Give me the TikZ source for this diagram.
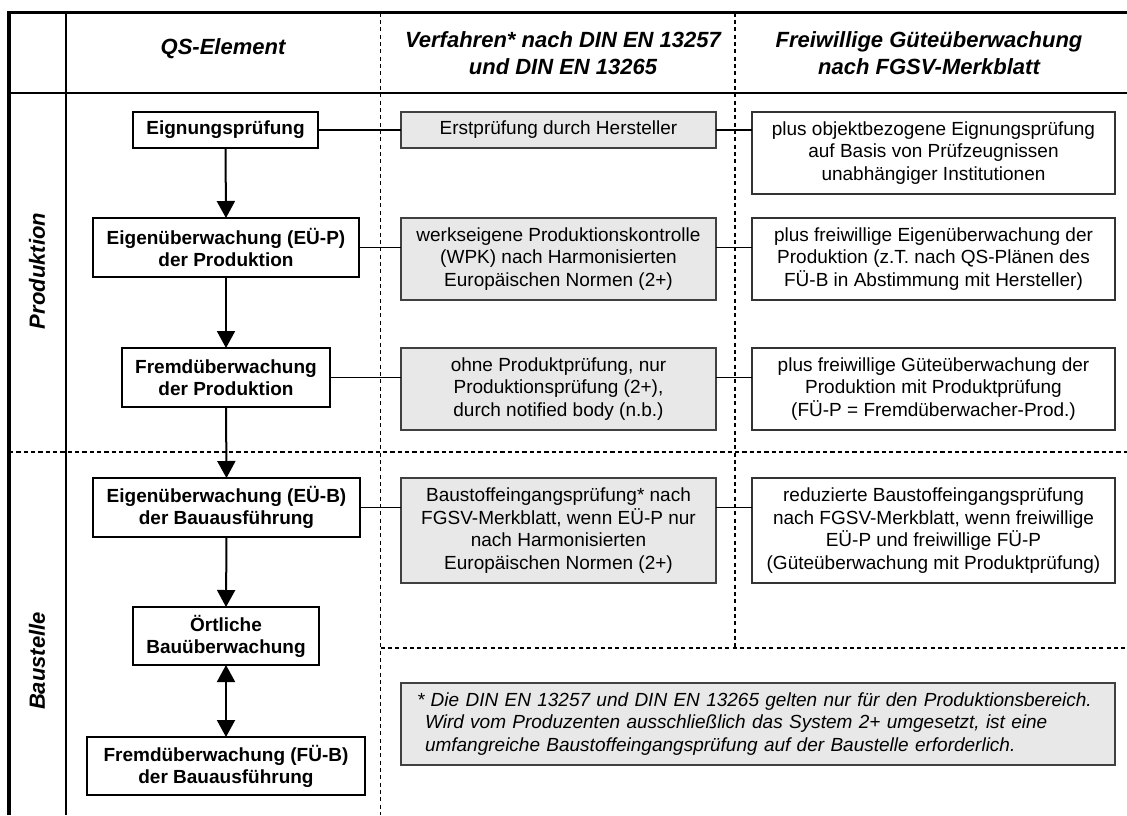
\documentclass[tikz,border=0pt]{standalone}
\usepackage{fontspec}
\setmainfont{Liberation Sans}
\usetikzlibrary{arrows.meta}
\begin{document}
\begin{tikzpicture}[x=0.75pt,y=-0.75pt,
  every node/.style={inner sep=0pt, outer sep=0pt},
  body/.style={font=\fontsize{14.25}{16.9}\selectfont, align=center},
  lbox/.style={draw=black, line width=0.9pt, fill=white, align=center,
               font=\fontsize{14.25}{16.5}\selectfont\bfseries},
  mbox/.style={draw=black!75, line width=0.8pt, fill=black!9, body, minimum width=236.25pt},
  rbox/.style={draw=black!80, line width=0.8pt, fill=white, body, minimum width=272.25pt},
  hdr/.style={font=\fontsize{16.5}{19.9}\selectfont\bfseries\itshape, align=center},
  sep/.style={dash pattern=on 3.2pt off 2.3pt, line width=1.3pt},
  conn/.style={line width=0.8pt},
  arr/.style={line width=1.5pt, -{Triangle[width=13.5pt,length=12.75pt]}},
  darr/.style={line width=1.5pt, {Triangle[width=13.5pt,length=12.75pt]}-{Triangle[width=13.5pt,length=12.75pt]}},
  fnbox/.style={draw=black!75, line width=0.8pt, fill=black!9, align=left,
                font=\fontsize{14.25}{16.9}\selectfont\itshape}
]
\useasboundingbox (0,0) rectangle (1127,815);

% frame lines
\draw[line width=2.4pt] (9,815) -- (9,12.5) -- (1127,12.5);
\draw[line width=0.9pt] (66,12.5) -- (66,815);
\draw[line width=1pt] (9,93) -- (1127,93);
\draw[sep] (380.5,12.5) -- (380.5,815);
\draw[sep] (735,12.5) -- (735,648);
\draw[sep] (9,452) -- (1127,452);
\draw[sep] (380.5,648) -- (1127,648);

% headers
\node[hdr] (h1) at (223,48.5) {QS-Element};
\node[hdr] (h2) at (563,53) {Verfahren* nach DIN EN 13257\\und DIN EN 13265};
\node[hdr] (h3) at (929,53) {Freiwillige Güteüberwachung\\nach FGSV-Merkblatt};
\node[hdr, rotate=90] (sp) at (37,271) {Produktion};
\node[hdr, rotate=90] (sb) at (37,661) {Baustelle};

% left column
\node[lbox, minimum width=138.75pt, minimum height=27pt] (L1) at (225.5,130) {Eignungsprüfung};
\node[lbox, minimum width=199.5pt, minimum height=44.25pt] (L2) at (226,247.5) {Eigenüberwachung (EÜ-P)\\der Produktion};
\node[lbox, minimum width=156pt, minimum height=44.25pt] (L3) at (226,377.5) {Fremdüberwachung\\der Produktion};
\node[lbox, minimum width=200.25pt, minimum height=44.25pt] (L4) at (226.5,507.5) {Eigenüberwachung (EÜ-B)\\der Bauausführung};
\node[lbox, minimum width=139.5pt, minimum height=43.5pt] (L5) at (226,636) {Örtliche\\Bauüberwachung};
\node[lbox, minimum width=208.5pt, minimum height=43.5pt] (L6) at (226,766) {Fremdüberwachung (FÜ-B)\\der Bauausführung};

% middle column
\node[mbox, minimum height=27pt] (M1) at (558.5,130) {Erstprüfung durch Hersteller};
\node[mbox, minimum height=61.5pt] (M2) at (558.5,259) {werkseigene Produktionskontrolle\\(WPK) nach Harmonisierten\\Europäischen Normen (2+)};
\node[mbox, minimum height=61.5pt] (M3) at (558.5,389) {ohne Produktprüfung, nur\\Produktionsprüfung (2+),\\durch notified body (n.b.)};
\node[mbox, minimum height=78.75pt] (M4) at (558.5,530.5) {Baustoffeingangsprüfung* nach\\FGSV-Merkblatt, wenn EÜ-P nur\\nach Harmonisierten\\Europäischen Normen (2+)};

% right column
\node[rbox, minimum height=61.5pt] (R1) at (933.5,153) {plus objektbezogene Eignungsprüfung\\auf Basis von Prüfzeugnissen\\unabhängiger Institutionen};
\node[rbox, minimum height=61.5pt] (R2) at (933.5,259) {plus freiwillige Eigenüberwachung der\\Produktion (z.T. nach QS-Plänen des\\FÜ-B in Abstimmung mit Hersteller)};
\node[rbox, minimum height=61.5pt] (R3) at (933.5,389) {plus freiwillige Güteüberwachung der\\Produktion mit Produktprüfung\\(FÜ-P = Fremdüberwacher-Prod.)};
\node[rbox, minimum height=78.75pt] (R4) at (933.5,530.5) {reduzierte Baustoffeingangsprüfung\\nach FGSV-Merkblatt, wenn freiwillige\\EÜ-P und freiwillige FÜ-P\\(Güteüberwachung mit Produktprüfung)};

% footnote
\node[fnbox, minimum width=535.5pt, minimum height=61.5pt, text width=511.5pt, inner xsep=12pt] (F) at (758,724)
 {* Die DIN EN 13257 und DIN EN 13265 gelten nur für den Produktionsbereich.\\
  \hspace*{6pt}Wird vom Produzenten ausschließlich das System 2+ umgesetzt, ist eine\\
  \hspace*{6pt}umfangreiche Baustoffeingangsprüfung auf der Baustelle erforderlich.};

% horizontal connectors
\draw[conn] (L1.east) -- (M1.west);
\draw[conn] (M1.east) -- (R1.west |- M1.east);
\draw[conn] (L2.east) -- (M2.west |- L2.east);
\draw[conn] (M2.east |- L2.east) -- (R2.west |- L2.east);
\draw[conn] (L3.east) -- (M3.west |- L3.east);
\draw[conn] (M3.east |- L3.east) -- (R3.west |- L3.east);
\draw[conn] (L4.east) -- (M4.west |- L4.east);
\draw[conn] (M4.east |- L4.east) -- (R4.west |- L4.east);

% vertical arrows
\draw[arr] (L1.south) -- (L2.north);
\draw[arr] (L2.south) -- (L3.north);
\draw[arr] (L3.south) -- (L4.north);
\draw[arr] (L4.south) -- (L5.north);
\draw[darr] (L5.south) -- (L6.north);
\end{tikzpicture}
\end{document}
